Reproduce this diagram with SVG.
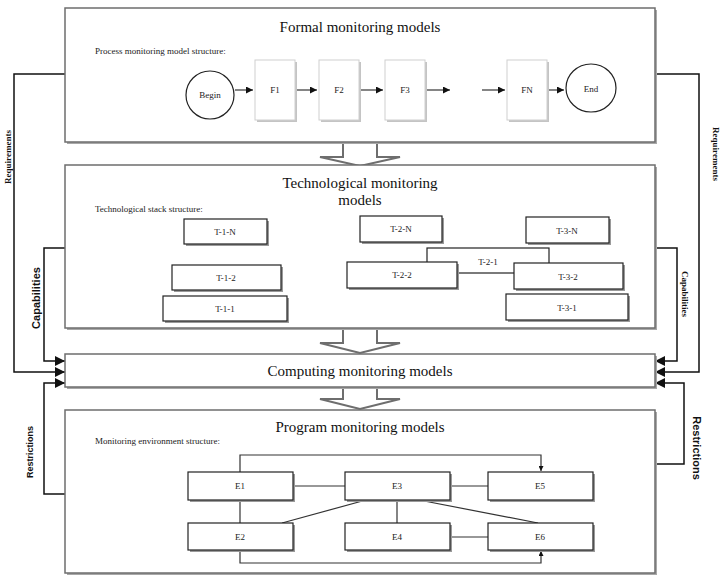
<svg xmlns="http://www.w3.org/2000/svg" width="726" height="576" viewBox="0 0 726 576">
<defs>
<style>
.main{fill:#fff;stroke:#6e6e6e;stroke-width:1.5}
.sh{fill:#a8a8a8;stroke:none}
.fbox{fill:#fff;stroke:#cfcfcf;stroke-width:1}
.fsh{fill:#c4c4c4;stroke:none}
.tbox{fill:#fff;stroke:#222;stroke-width:1.2}
.tsh{fill:#9a9a9a;stroke:none}
.circ{fill:#fff;stroke:#222;stroke-width:1.2}
.title{font-family:"Liberation Serif",serif;font-size:15px;fill:#111;text-anchor:middle}
.sub{font-family:"Liberation Serif",serif;font-size:9px;fill:#222}
.lbl{font-family:"Liberation Serif",serif;font-size:9px;fill:#222;text-anchor:middle}
.side{fill:none;stroke:#111;stroke-width:1.5}
.flow{fill:none;stroke:#333;stroke-width:1.2}
.hollow{fill:#fff;stroke:#6e6e6e;stroke-width:2;stroke-linejoin:miter}
.rs{font-family:"Liberation Serif",serif;font-size:9px;font-weight:bold;fill:#111;text-anchor:middle}
.ss{font-family:"Liberation Sans",sans-serif;font-weight:bold;fill:#111;text-anchor:middle}
</style>
<marker id="ah" viewBox="0 0 10 10" refX="10" refY="5" markerWidth="5" markerHeight="5" orient="auto" markerUnits="userSpaceOnUse">
<path d="M0,0 L10,5 L0,10 z" fill="#111"/>
</marker>
<marker id="big" viewBox="0 0 10 10" refX="10" refY="5" markerWidth="10" markerHeight="10" orient="auto" markerUnits="userSpaceOnUse">
<path d="M0,0 L10,5 L0,10 z" fill="#111"/>
</marker>
<marker id="sm" viewBox="0 0 10 10" refX="10" refY="5" markerWidth="7" markerHeight="7" orient="auto" markerUnits="userSpaceOnUse">
<path d="M0,0 L10,5 L0,10 z" fill="#111"/>
</marker>
</defs>
<rect width="726" height="576" fill="#fff"/>

<g id="connectors">
<!-- left side -->
<path class="side" d="M65,74 H14 V372 H65" marker-end="url(#big)"/>
<path class="side" d="M65,248 H44 V361 H65" marker-end="url(#big)"/>
<path class="side" d="M65,494 H44 V383 H65" marker-end="url(#big)"/>
<!-- right side -->
<path class="side" d="M655,74 H699 V372 H655" marker-end="url(#big)"/>
<path class="side" d="M655,248 H677 V361 H655" marker-end="url(#big)"/>
<path class="side" d="M655,464 H684 V383 H655" marker-end="url(#big)"/>
<!-- hollow arrows -->
<path class="hollow" d="M343,142 V157 H320 L360,166 L400,157 H377 V142"/>
<path class="hollow" d="M343,328 V343 H320 L360,353 L400,343 H377 V328"/>
<path class="hollow" d="M343,387 V399 H320 L360,409 L400,399 H377 V387"/>
</g>

<g id="formal">
<rect class="sh" x="67" y="10" width="590" height="134"/>
<rect class="main" x="65" y="8" width="590" height="134"/>
<text class="title" x="360" y="32">Formal monitoring models</text>
<text class="sub" x="95" y="54">Process monitoring model structure:</text>
</g>

<g id="process-flow">
<path class="flow" d="M235,90 H253" marker-end="url(#sm)"/>
<path class="flow" d="M295,90 H317" marker-end="url(#sm)"/>
<path class="flow" d="M360,90 H383" marker-end="url(#sm)"/>
<path class="flow" d="M425,90 H450" marker-end="url(#sm)"/>
<path class="flow" d="M482,90 H505" marker-end="url(#sm)"/>
<path class="flow" d="M547,90 H564" marker-end="url(#sm)"/>
</g>

<g id="begin"><ellipse class="circ" cx="210" cy="95" rx="24" ry="24"/><text class="lbl" x="210" y="98">Begin</text></g>
<g id="f1"><rect class="fsh" x="257" y="62" width="40" height="60"/><rect class="fbox" x="255" y="60" width="40" height="60"/><text class="lbl" x="275" y="93">F1</text></g>
<g id="f2"><rect class="fsh" x="321" y="62" width="40" height="60"/><rect class="fbox" x="319" y="60" width="40" height="60"/><text class="lbl" x="339" y="93">F2</text></g>
<g id="f3"><rect class="fsh" x="387" y="62" width="40" height="60"/><rect class="fbox" x="385" y="60" width="40" height="60"/><text class="lbl" x="405" y="93">F3</text></g>
<g id="fn"><rect class="fsh" x="509" y="62" width="40" height="60"/><rect class="fbox" x="507" y="60" width="40" height="60"/><text class="lbl" x="527" y="93">FN</text></g>
<g id="end"><ellipse class="circ" cx="591" cy="88" rx="25" ry="24"/><text class="lbl" x="591" y="92">End</text></g>

<g id="tech">
<rect class="sh" x="67" y="167" width="590" height="163"/>
<rect class="main" x="65" y="165" width="590" height="163"/>
<text class="title" x="360" y="188">Technological monitoring</text>
<text class="title" x="360" y="205">models</text>
<text class="sub" x="95" y="212">Technological stack structure:</text>
</g>

<g id="t-1-n"><rect class="tsh" x="186" y="221" width="83" height="25"/><rect class="tbox" x="184" y="219" width="83" height="25"/><text class="lbl" x="225" y="235">T-1-N</text></g>
<g id="t-1-2"><rect class="tsh" x="174" y="267" width="109" height="25"/><rect class="tbox" x="172" y="265" width="109" height="25"/><text class="lbl" x="226" y="281">T-1-2</text></g>
<g id="t-1-1"><rect class="tsh" x="165" y="298" width="124" height="25"/><rect class="tbox" x="163" y="296" width="124" height="25"/><text class="lbl" x="225" y="312">T-1-1</text></g>
<g id="t-2-n"><rect class="tsh" x="362" y="218" width="82" height="26"/><rect class="tbox" x="360" y="216" width="82" height="26"/><text class="lbl" x="401" y="232">T-2-N</text></g>
<g id="t-3-n"><rect class="tsh" x="528" y="219" width="83" height="26"/><rect class="tbox" x="526" y="217" width="83" height="26"/><text class="lbl" x="567" y="234">T-3-N</text></g>
<g id="t-2-1"><rect class="tbox" x="427" y="248" width="122" height="25"/><text class="lbl" x="488" y="265">T-2-1</text></g>
<g id="t-2-2"><rect class="tsh" x="349" y="264" width="110" height="26"/><rect class="tbox" x="347" y="262" width="110" height="26"/><text class="lbl" x="402" y="278">T-2-2</text></g>
<g id="t-3-2"><rect class="tsh" x="516" y="265" width="109" height="26"/><rect class="tbox" x="514" y="263" width="109" height="26"/><text class="lbl" x="568" y="280">T-3-2</text></g>
<g id="t-3-1"><rect class="tsh" x="508" y="296" width="122" height="26"/><rect class="tbox" x="506" y="294" width="122" height="26"/><text class="lbl" x="567" y="311">T-3-1</text></g>

<g id="computing">
<rect class="sh" x="67" y="356" width="590" height="33"/>
<rect class="main" x="65" y="354" width="590" height="33"/>
<text class="title" x="360" y="376">Computing monitoring models</text>
</g>

<g id="program">
<rect class="sh" x="67" y="412" width="590" height="163"/>
<rect class="main" x="65" y="410" width="590" height="163"/>
<text class="title" x="360" y="432">Program monitoring models</text>
<text class="sub" x="95" y="444">Monitoring environment structure:</text>
</g>

<g id="env-connectors">
<path class="flow" d="M240,472 V455 H541 V471" marker-end="url(#ah)"/>
<path class="flow" d="M293,486 H345"/>
<path class="flow" d="M450,486 H488"/>
<path class="flow" d="M240,500 V523"/>
<path class="flow" d="M366,500 L282,523"/>
<path class="flow" d="M397,500 V523"/>
<path class="flow" d="M419,500 L538,523"/>
<path class="flow" d="M450,537 H488"/>
<path class="flow" d="M240,550 V563 H541 V551" marker-end="url(#ah)"/>
</g>

<g id="e1"><rect class="tsh" x="190" y="474" width="105" height="28"/><rect class="tbox" x="188" y="472" width="105" height="28"/><text class="lbl" x="240" y="489">E1</text></g>
<g id="e3"><rect class="tsh" x="347" y="474" width="105" height="28"/><rect class="tbox" x="345" y="472" width="105" height="28"/><text class="lbl" x="397" y="489">E3</text></g>
<g id="e5"><rect class="tsh" x="490" y="474" width="105" height="28"/><rect class="tbox" x="488" y="472" width="105" height="28"/><text class="lbl" x="540" y="489">E5</text></g>
<g id="e2"><rect class="tsh" x="190" y="525" width="105" height="27"/><rect class="tbox" x="188" y="523" width="105" height="27"/><text class="lbl" x="240" y="540">E2</text></g>
<g id="e4"><rect class="tsh" x="347" y="525" width="105" height="27"/><rect class="tbox" x="345" y="523" width="105" height="27"/><text class="lbl" x="397" y="540">E4</text></g>
<g id="e6"><rect class="tsh" x="490" y="525" width="105" height="27"/><rect class="tbox" x="488" y="523" width="105" height="27"/><text class="lbl" x="540" y="540">E6</text></g>

<g id="side-labels">
<text class="rs" transform="translate(11,157) rotate(-90)">Requirements</text>
<text class="ss" font-size="11" transform="translate(40,298) rotate(-90)">Capabilities</text>
<text class="ss" font-size="9" transform="translate(33,452) rotate(-90)">Restrictions</text>
<text class="rs" transform="translate(713,154) rotate(90)">Requirements</text>
<text class="rs" transform="translate(682,294) rotate(90)">Capabilities</text>
<text class="ss" font-size="11" transform="translate(693,448) rotate(90)">Restrictions</text>
</g>
</svg>
